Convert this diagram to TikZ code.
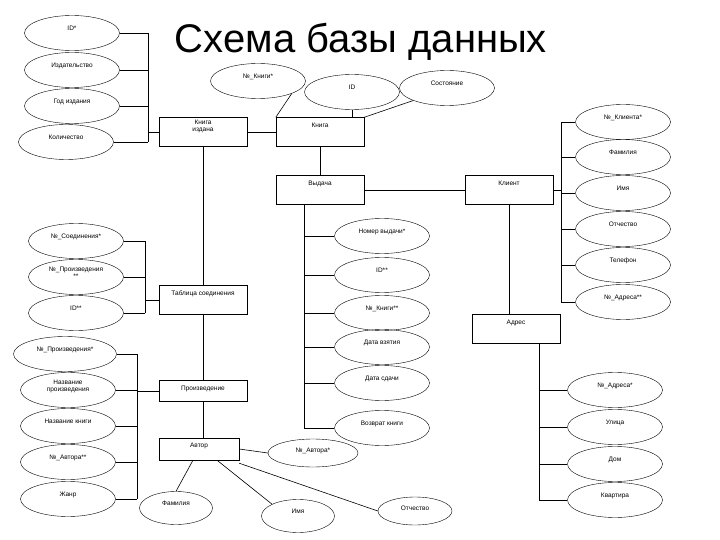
\documentclass[tikz,border=0pt]{standalone}
\usepackage{fontspec}
\setmainfont{Liberation Sans}
\usetikzlibrary{shapes.geometric}
\begin{document}
\begin{tikzpicture}[x=1pt,y=-1pt,
  attr/.style={draw,ellipse,minimum width=95pt,minimum height=35pt,inner sep=0pt,font=\fontsize{6.5}{7}\selectfont,text depth=9pt,align=center},
  ent/.style={draw,rectangle,minimum width=88pt,minimum height=29pt,inner sep=2pt,font=\fontsize{6.5}{7}\selectfont,text depth=13pt,align=center},
  ln/.style={line width=0.6pt}]
\useasboundingbox (0,0) rectangle (720,540);
\node[font=\fontsize{40}{42}\selectfont] (title) at (361,42) {Схема базы данных};
% entities
\node[ent] (KI) at (203,132) {Книга\\издана};
\node[ent] (K) at (320,132) {Книга};
\node[ent] (V) at (320,190) {Выдача};
\node[ent] (Kl) at (509,190) {Клиент};
\node[ent] (A) at (516,329) {Адрес};
\node[ent] (TS) at (203,300) {Таблица соединения};
\node[ent,minimum height=21pt,text depth=6pt] (P) at (203,391) {Произведение};
\node[ent,minimum width=80pt,minimum height=22pt,text depth=7pt] (Av) at (199,449) {Автор};
% Книга издана attrs
\node[attr] (a1) at (72,33) {ID*};
\node[attr] (a2) at (72,70) {Издательство};
\node[attr] (a3) at (72,106) {Год издания};
\node[attr] (a4) at (66,142) {Количество};
\coordinate (bA) at (148,0);
\foreach \n in {a1,a2,a3,a4} \draw[ln] (\n.east) -- (\n.east -| bA);
\draw[ln] (a1.east -| bA) -- (a4.east -| bA);
\draw[ln] (KI.west) -- (KI.west -| bA);
\draw[ln] (KI) -- (K);
% Книга attrs
\node[attr] (k1) at (258,81) {№\_Книги*};
\node[attr] (k2) at (352,92) {ID};
\node[attr] (k3) at (447,88) {Состояние};
\draw[ln] (k1.south east) -- (K.north west) ++(0,0);
\draw[ln] (k2.south) -- (k2.south |- K.north);
\draw[ln] (k3.south west) -- (K.north east);
\draw[ln] (K) -- (V);
\draw[ln] (V) -- (Kl);
% Клиент attrs
\node[attr] (c1) at (623,122) {№\_Клиента*};
\node[attr] (c2) at (623,157) {Фамилия};
\node[attr] (c3) at (623,193) {Имя};
\node[attr] (c4) at (623,229) {Отчество};
\node[attr] (c5) at (623,265) {Телефон};
\node[attr] (c6) at (623,302) {№\_Адреса**};
\coordinate (bC) at (561,0);
\foreach \n in {c1,c2,c3,c4,c5,c6} \draw[ln] (\n.west) -- (\n.west -| bC);
\draw[ln] (c1.west -| bC) -- (c6.west -| bC);
\draw[ln] (Kl.east) -- (Kl.east -| bC);
\draw[ln] (Kl) -- (Kl |- A.north);
% Адрес attrs
\node[attr] (d1) at (615,390) {№\_Адреса*};
\node[attr] (d2) at (615,427) {Улица};
\node[attr] (d3) at (615,464) {Дом};
\node[attr] (d4) at (615,500) {Квартира};
\coordinate (bD) at (539,0);
\foreach \n in {d1,d2,d3,d4} \draw[ln] (\n.west) -- (\n.west -| bD);
\draw[ln] (A.south -| bD) -- (d4.west -| bD);
% Выдача attrs
\node[attr] (v1) at (382,236) {Номер выдачи*};
\node[attr] (v2) at (382,275) {ID**};
\node[attr] (v3) at (382,313) {№\_Книги**};
\node[attr] (v4) at (382,347) {Дата взятия};
\node[attr] (v5) at (382,383) {Дата сдачи};
\node[attr] (v6) at (382,428) {Возврат книги};
\coordinate (bV) at (304,0);
\foreach \n in {v1,v2,v3,v4,v5,v6} \draw[ln] (\n.west) -- (\n.west -| bV);
\draw[ln] (V.south -| bV) -- (v6.west -| bV);
% Таблица соединения attrs
\draw[ln] (KI) -- (TS);
\draw[ln] (TS) -- (P);
\draw[ln] (P.south) -- (P.south |- Av.north);
\node[attr] (t1) at (76,241) {№\_Соединения*};
\node[attr] (t2) at (76,277) {№\_Произведения\\**};
\node[attr] (t3) at (76,313) {ID**};
\coordinate (bT) at (145,0);
\foreach \n in {t1,t2,t3} \draw[ln] (\n.east) -- (\n.east -| bT);
\draw[ln] (t1.east -| bT) -- (t3.east -| bT);
\draw[ln] (TS.west) -- (TS.west -| bT);
% Произведение attrs
\node[attr,minimum width=103pt] (p1) at (65,354) {№\_Произведения*};
\node[attr] (p2) at (68,390) {Название\\произведения};
\node[attr] (p3) at (68,426) {Название книги};
\node[attr] (p4) at (68,462) {№\_Автора**};
\node[attr] (p5) at (68,499) {Жанр};
\coordinate (bP) at (137,0);
\foreach \n in {p1,p2,p3,p4,p5} \draw[ln] (\n.east) -- (\n.east -| bP);
\draw[ln] (p1.east -| bP) -- (p5.east -| bP);
\draw[ln] (P.west) -- (P.west -| bP);
% Автор attrs
\node[attr,minimum width=90pt,minimum height=28pt,text depth=6pt] (u1) at (313,453) {№\_Автора*};
\node[attr,minimum width=73pt,minimum height=33pt] (u2) at (176,508) {Фамилия};
\node[attr,minimum width=73pt,minimum height=33pt] (u3) at (298,516) {Имя};
\node[attr,minimum width=74pt,minimum height=28pt,text depth=6pt] (u4) at (415,511) {Отчество};
\draw[ln] (Av.east) -- (u1.west);
\draw[ln] ([xshift=-6pt]Av.south) -- (u2.north);
\draw[ln] ([xshift=18pt]Av.south) -- (u3.north west);
\draw[ln] ([yshift=-3pt]Av.south east) -- (u4.west);
\end{tikzpicture}
\end{document}
